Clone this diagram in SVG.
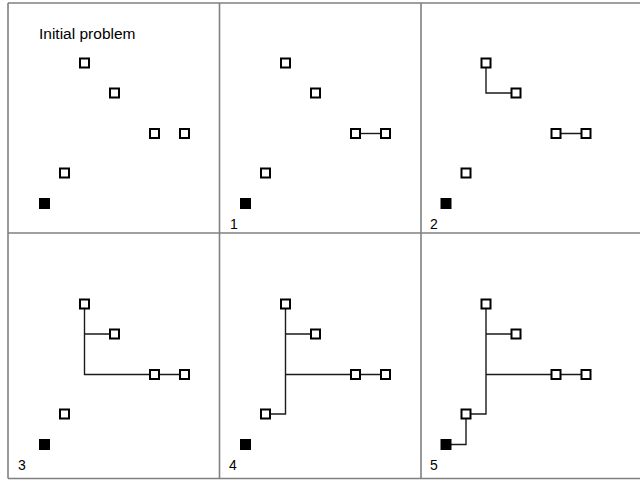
<svg xmlns="http://www.w3.org/2000/svg" width="640" height="480" viewBox="0 0 640 480">
<style>
.grid{stroke:#808080;stroke-width:1.6;fill:none}
.c{stroke:#1a1a1a;stroke-width:1.4;fill:none}
.n{fill:#fff;stroke:#000;stroke-width:2}
.s{fill:#000;stroke:none}
text{font-family:"Liberation Sans",Arial,sans-serif;fill:#000}
.lbl{font-size:14px}
.title{font-size:15.5px}
</style>
<rect width="640" height="480" fill="#fff"/>
<g id="grid" class="grid">
<path d="M8,3H640M8,233H640M8,478.5H640M8,3V478.5M219.5,3V478.5M421,3V478.5"/>
</g>
<g id="connectors" class="c">
<g transform="translate(201,0)"><path d="M154.5,133.5H184.5"/></g>
<g transform="translate(401.5,0)"><path d="M154.5,133.5H184.5M84.5,63V93H114.5"/></g>
<g transform="translate(0,241)"><path d="M154.5,133.5H184.5M84.5,63V133.5H154.5M84.5,93H114.5"/></g>
<g transform="translate(201,241)"><path d="M154.5,133.5H184.5M84.5,63V173H64.5M84.5,93H114.5M84.5,133.5H154.5"/></g>
<g transform="translate(401.5,241)"><path d="M154.5,133.5H184.5M84.5,63V173H64.5M84.5,93H114.5M84.5,133.5H154.5M64.5,173V203.5H44.5"/></g>
</g>
<defs>
<g id="nodes-base">
<rect class="n" x="80" y="58.5" width="9" height="9"/>
<rect class="n" x="110" y="88.5" width="9" height="9"/>
<rect class="n" x="150" y="129" width="9" height="9"/>
<rect class="n" x="180" y="129" width="9" height="9"/>
<rect class="n" x="60" y="168.5" width="9" height="9"/>
<rect class="s" x="39" y="198" width="11" height="11"/>
</g>
</defs>
<g id="panel-initial">
<text class="title" x="39" y="38.5">Initial problem</text>
<use href="#nodes-base"/>
</g>
<g id="panel-1">
<use href="#nodes-base" transform="translate(201,0)"/>
<text class="lbl" x="230" y="229">1</text>
</g>
<g id="panel-2">
<use href="#nodes-base" transform="translate(401.5,0)"/>
<text class="lbl" x="430" y="229">2</text>
</g>
<g id="panel-3">
<use href="#nodes-base" transform="translate(0,241)"/>
<text class="lbl" x="18" y="470">3</text>
</g>
<g id="panel-4">
<use href="#nodes-base" transform="translate(201,241)"/>
<text class="lbl" x="229" y="470">4</text>
</g>
<g id="panel-5">
<use href="#nodes-base" transform="translate(401.5,241)"/>
<text class="lbl" x="430" y="470">5</text>
</g>
</svg>
